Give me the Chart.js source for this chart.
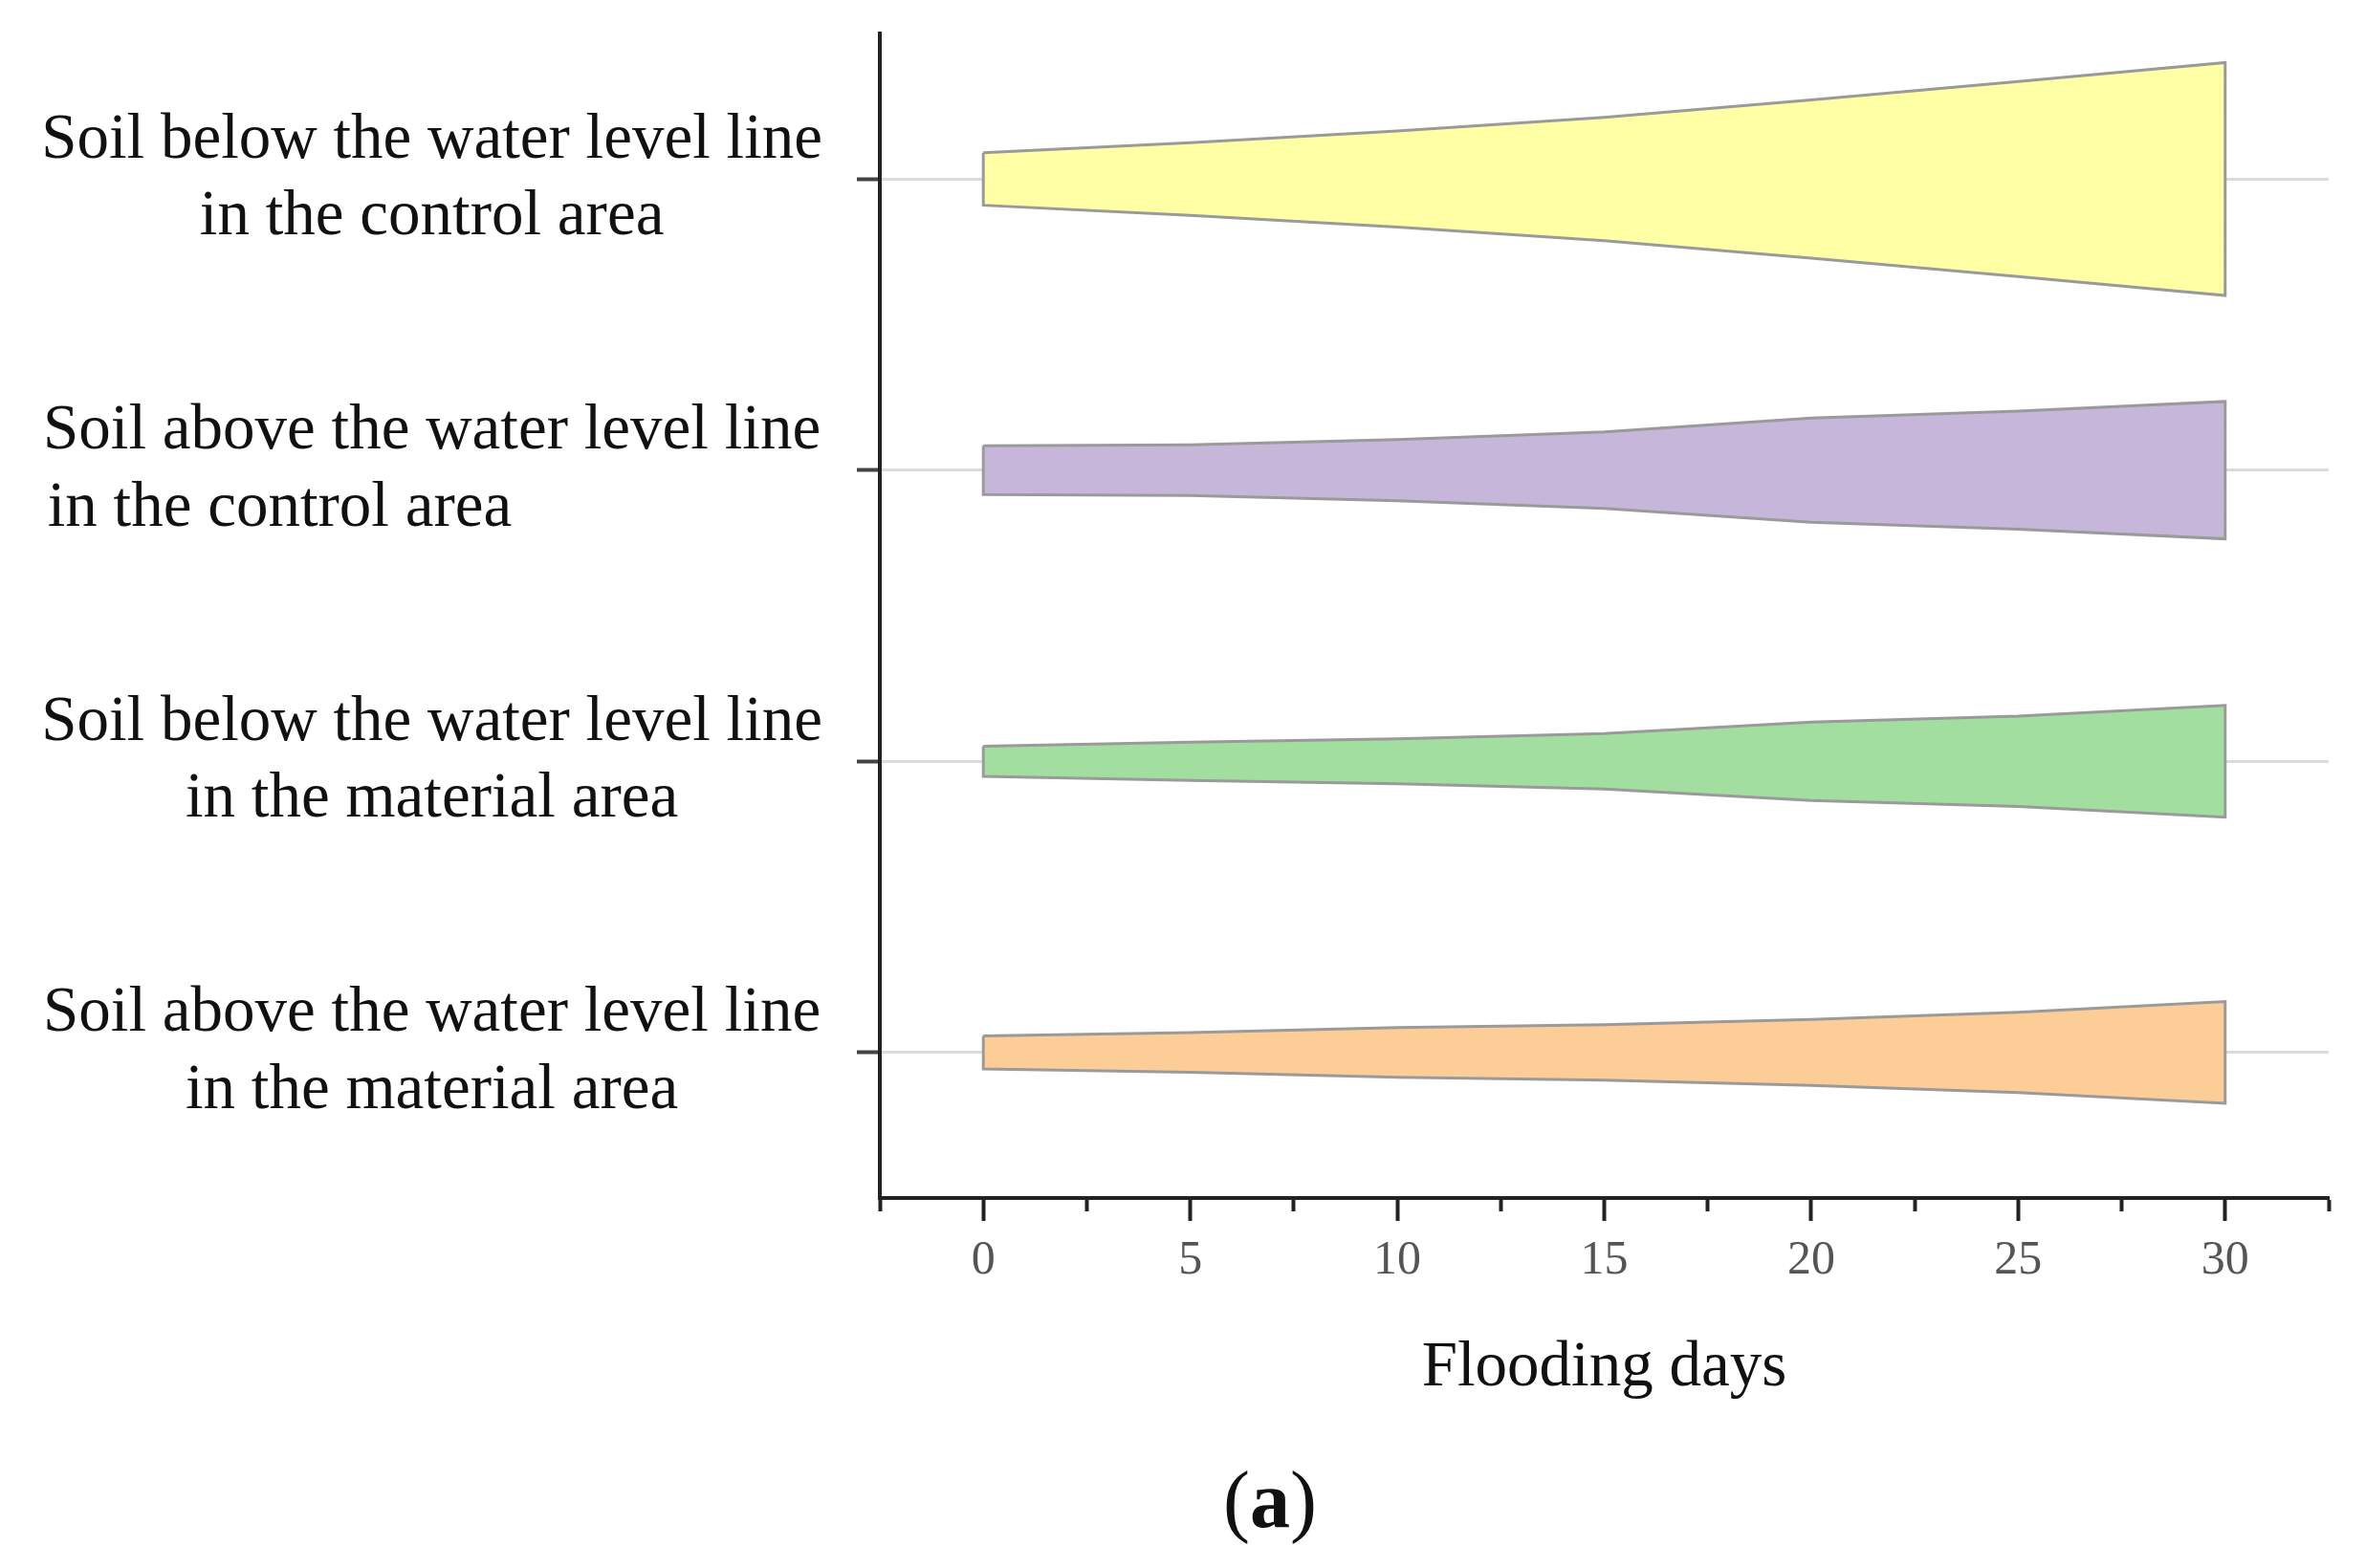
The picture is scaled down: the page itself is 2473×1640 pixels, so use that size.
<!DOCTYPE html>
<html>
<head>
<meta charset="utf-8">
<title>Flooding days</title>
<script src="https://cdn.jsdelivr.net/npm/chart.js@4.4.1/dist/chart.umd.min.js"></script>
<style>
  html, body { margin: 0; padding: 0; background: #fff; }
  .wrap { position: relative; width: 2473px; height: 1640px; }
  #chart { display: block; }
  .panel-tag {
    position: absolute; left: 1328px; top: 1568px; transform: translate(-50%, -50%);
    font: 84px "Liberation Serif", "Times New Roman", serif; color: #111;
  }
</style>
</head>
<body>
<div class="wrap">
  <canvas id="chart" width="2473" height="1640"></canvas>
  <div class="panel-tag">(<b>a</b>)</div>
</div>
<script>
const days = [0, 5, 10, 15, 20, 25, 30];
const xMajorTicks = [0, 5, 10, 15, 20, 25, 30];
const xMinorTicks = [-2.5, 2.5, 7.5, 12.5, 17.5, 22.5, 27.5, 32.5];

const rowLabels = [
  ["Soil below the water level line", "in the control area"],
  ["Soil above the water level line", "in the control area"],
  ["Soil below the water level line", "in the material area"],
  ["Soil above the water level line", "in the material area"],
];
// second line of row 2 sits flush left in the original
const leftAlignedRows = [1];

// half-width of each band, in row units
const belowControl = [0.090, 0.125, 0.165, 0.212, 0.272, 0.335, 0.400];
const aboveControl = [0.084, 0.087, 0.105, 0.131, 0.179, 0.203, 0.236];
const belowMaterial = [0.052, 0.066, 0.077, 0.095, 0.135, 0.155, 0.192];
const aboveMaterial = [0.057, 0.068, 0.085, 0.095, 0.113, 0.138, 0.175];

const rowColors = ["#FFFFA6", "#C6B7DA", "#A2DEA0", "#FDCD98"];

const FONT = "'Liberation Serif', 'Times New Roman', serif";
const LABEL_SIZE = 67;

function outline(hw, row) {
  const top = days.map((d, i) => ({ x: d, y: row - hw[i] }));
  const bottom = days.map((d, i) => ({ x: d, y: row + hw[i] })).reverse();
  return [...top, ...bottom, top[0]];
}

const measureCtx = document.createElement("canvas").getContext("2d");
measureCtx.font = `${LABEL_SIZE}px ${FONT}`;

function padToWidth(line, width) {
  let out = line;
  while (measureCtx.measureText(out + "\u00A0").width <= width) out += "\u00A0";
  return out;
}

function labelFor(row) {
  const lines = rowLabels[row];
  if (!lines) return "";
  if (!leftAlignedRows.includes(row)) return lines;
  const w = measureCtx.measureText(lines[0]).width;
  return [lines[0], padToWidth(lines[1], w)];
}

const series = [belowControl, aboveControl, belowMaterial, aboveMaterial];

new Chart(document.getElementById("chart"), {
  type: "line",
  data: {
    datasets: series.map((hw, row) => ({
      data: outline(hw, row),
      fill: "shape",
      backgroundColor: rowColors[row],
      borderColor: "#9a9a9a",
      borderWidth: 3,
      borderJoinStyle: "miter",
      pointRadius: 0,
      tension: 0,
    })),
  },
  options: {
    responsive: false,
    devicePixelRatio: 1,
    animation: false,
    layout: { padding: { left: 0, right: 38, top: 35, bottom: 0 } },
    plugins: { legend: { display: false }, tooltip: { enabled: false } },
    scales: {
      x: {
        type: "linear",
        min: -2.5,
        max: 32.5,
        afterBuildTicks: (s) => {
          s.ticks = [...xMinorTicks, ...xMajorTicks].sort((a, b) => a - b).map(v => ({ value: v }));
        },
        afterFit: (s) => {
          s.height = 387;
          s.paddingLeft = 0;
          s.paddingRight = 0;
        },
        ticks: {
          autoSkip: false,
          maxRotation: 0,
          padding: 12,
          color: "#555",
          font: { family: FONT, size: 50 },
          callback: (v) => xMajorTicks.includes(v) ? String(v) : "",
        },
        grid: {
          drawOnChartArea: false,
          tickLength: 24,
          tickWidth: 4,
          tickColor: "#222",
          tickBorderDash: (c) => xMajorTicks.includes(c.tick && c.tick.value) ? [] : [12, 60],
        },
        border: { color: "#222", width: 4 },
        title: {
          display: true,
          text: "Flooding days",
          color: "#111",
          font: { family: FONT, size: 67 },
          padding: { top: 0, bottom: 168 },
        },
      },
      y: {
        type: "linear",
        reverse: true,
        min: -0.5,
        max: 3.5,
        afterBuildTicks: (s) => { s.ticks = rowLabels.map((_, i) => ({ value: i })); },
        afterFit: (s) => {
          s.width = 920;
          s.paddingTop = 0;
          s.paddingBottom = 0;
        },
        ticks: {
          autoSkip: false,
          crossAlign: "center",
          padding: 36,
          color: "#111",
          font: { family: FONT, size: LABEL_SIZE, lineHeight: 1.2 },
          callback: (v) => labelFor(v),
        },
        grid: {
          color: "#dcdcdc",
          lineWidth: 3,
          tickLength: 24,
          tickWidth: 4,
          tickColor: "#444",
        },
        border: { color: "#222", width: 4 },
      },
    },
  },
});
</script>
</body>
</html>
